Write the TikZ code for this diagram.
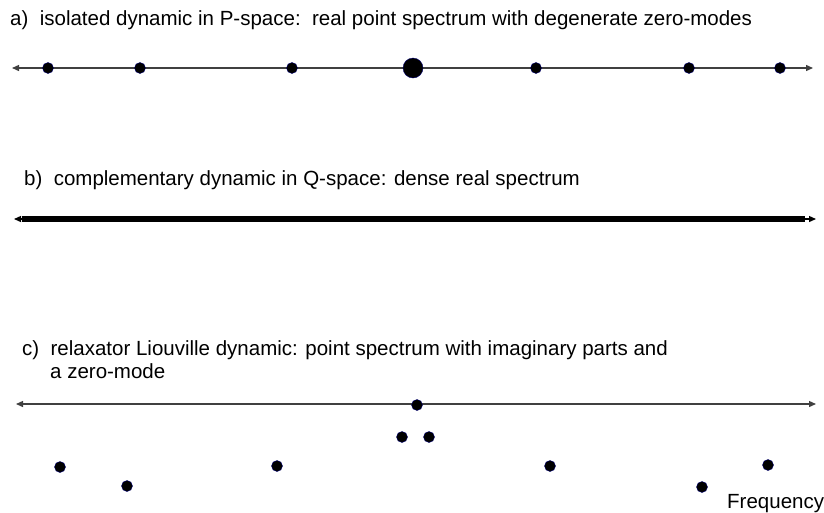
\documentclass[tikz,border=0pt]{standalone}
\usepackage{fontspec}
\setmainfont{Liberation Sans}
\usetikzlibrary{arrows.meta}

\tikzset{
	axis/.style = {draw=black!75, line width=1.3pt, {Triangle[length=7pt,width=6pt]}-{Triangle[length=7pt,width=6pt]}},
	dot/.style = {circle, fill=black, draw=blue!45!black, line width=0.4pt, inner sep=0pt, minimum size=11pt},
	bigdot/.style = {dot, minimum size=20pt},
	caption/.style = {anchor=base west, inner sep=0pt, font=\fontsize{20.5}{23}\selectfont, align=left}
}

\begin{document}
\begin{tikzpicture}[x=1pt, y=-1pt]
\useasboundingbox (0,0) rectangle (824,512);

% a) point spectrum
\node[caption] (capA) at (10,25) {a)\ \ isolated dynamic in P-space:\ \ real point spectrum with degenerate zero-modes};
\coordinate (aL) at (12,68);
\coordinate (aR) at (813,68);
\draw[axis] (aL) -- (aR);
\foreach \x [count=\i] in {48,140,292,536,689,780}
	\node[dot] (pa\i) at (\x,68) {};
\node[bigdot] (zero) at (413,68) {};

% b) dense spectrum
\node[caption] (capB) at (24,185) {b)\ \ complementary dynamic in Q-space: dense real spectrum};
\coordinate (bL) at (14,219);
\coordinate (bR) at (816,219);
\coordinate (bl) at (22,219);
\coordinate (br) at (805,219);
\draw[axis, draw=black] (bL) -- (bR);
\draw[line width=6pt] (bl) -- (br);

% c) relaxator spectrum (base = last line)
\node[caption] (capC) at (22,378) {c)\ \ relaxator Liouville dynamic: point spectrum with imaginary parts and\\\hspace*{28pt}a zero-mode};
\coordinate (cL) at (16,404);
\coordinate (cR) at (816,404);
\draw[axis] (cL) -- (cR);
\foreach \x/\y [count=\i] in {417/405, 402/437, 429/437, 60/467, 127/486, 277/466, 550/466, 702/487, 768/465}
	\node[dot] (pc\i) at (\x,\y) {};
\node[caption] (freq) at (727,508) {Frequency};
\end{tikzpicture}
\end{document}
